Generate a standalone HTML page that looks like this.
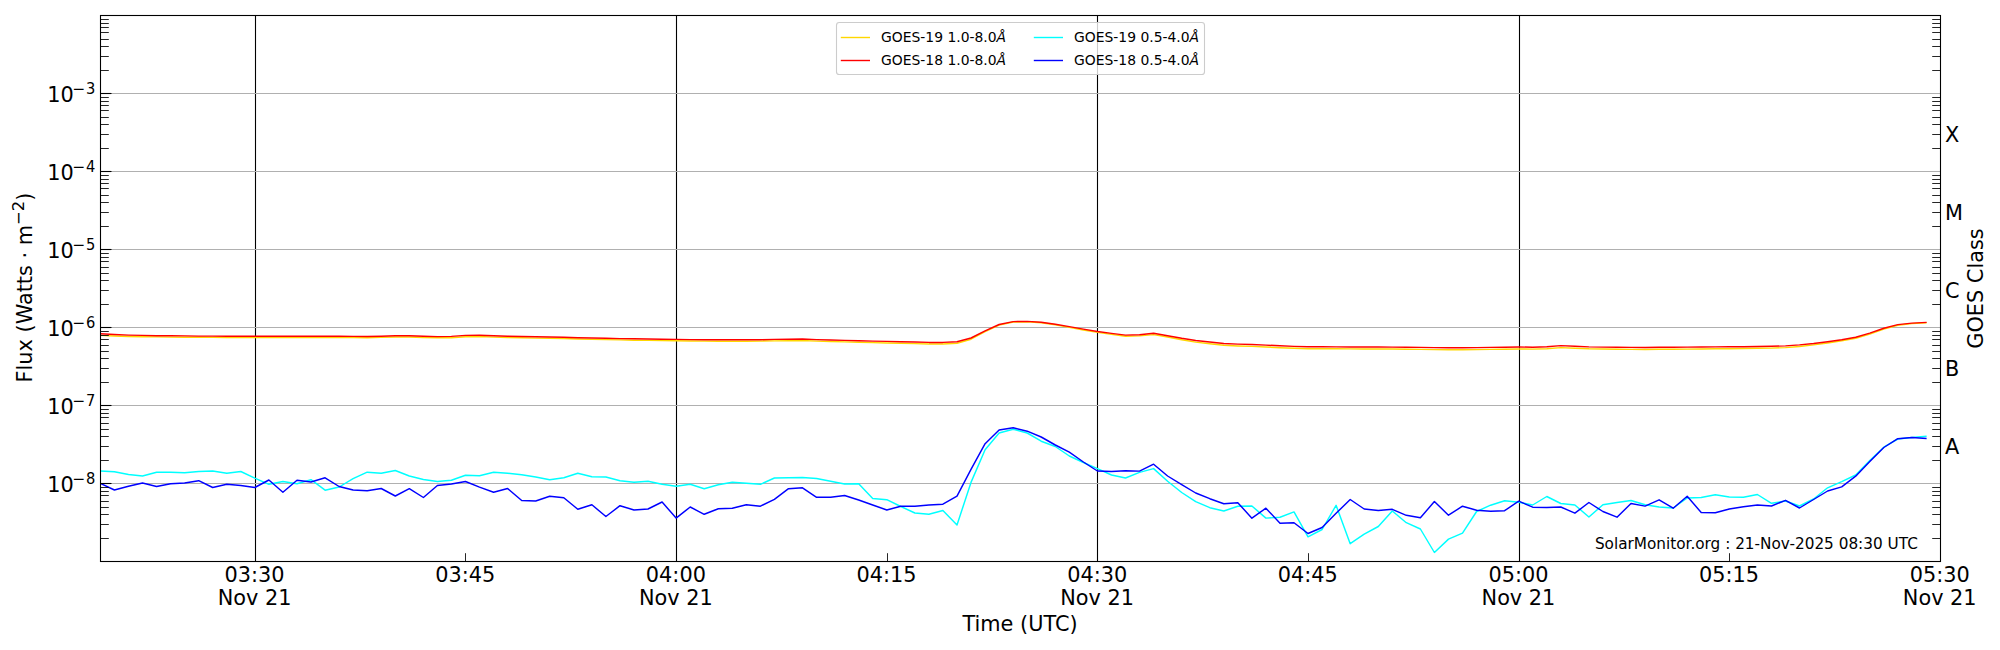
<!DOCTYPE html>
<html lang="en"><head><meta charset="utf-8"><title>GOES X-ray Flux</title>
<style>html,body{margin:0;padding:0;background:#fff;}svg{display:block;}</style></head>
<body>
<svg width="2000" height="650" viewBox="0 0 2000 650" font-family='"DejaVu Sans", "Liberation Sans", sans-serif' shape-rendering="auto">
<rect x="0" y="0" width="2000" height="650" fill="#fff"/>
<line x1="255.50" x2="255.50" y1="15.5" y2="561.5" stroke="#000" stroke-width="1.1"/>
<line x1="676.50" x2="676.50" y1="15.5" y2="561.5" stroke="#000" stroke-width="1.1"/>
<line x1="1097.50" x2="1097.50" y1="15.5" y2="561.5" stroke="#000" stroke-width="1.1"/>
<line x1="1519.50" x2="1519.50" y1="15.5" y2="561.5" stroke="#000" stroke-width="1.1"/>
<line x1="100.5" x2="1940.5" y1="483.50" y2="483.50" stroke="#b0b0b0" stroke-width="1.1"/>
<line x1="100.5" x2="1940.5" y1="405.50" y2="405.50" stroke="#b0b0b0" stroke-width="1.1"/>
<line x1="100.5" x2="1940.5" y1="327.50" y2="327.50" stroke="#b0b0b0" stroke-width="1.1"/>
<line x1="100.5" x2="1940.5" y1="249.50" y2="249.50" stroke="#b0b0b0" stroke-width="1.1"/>
<line x1="100.5" x2="1940.5" y1="171.50" y2="171.50" stroke="#b0b0b0" stroke-width="1.1"/>
<line x1="100.5" x2="1940.5" y1="93.50" y2="93.50" stroke="#b0b0b0" stroke-width="1.1"/>
<clipPath id="axclip"><rect x="100.5" y="15.5" width="1840.0" height="546.0"/></clipPath>
<g clip-path="url(#axclip)">
<polyline points="100.4,335.4 114.4,336.0 128.5,336.5 142.5,336.7 156.6,336.9 170.6,337.1 184.6,337.2 198.7,337.3 212.7,337.4 226.8,337.4 240.8,337.5 254.8,337.5 268.9,337.5 282.9,337.5 297.0,337.5 311.0,337.5 325.1,337.5 339.1,337.5 353.1,337.6 367.2,337.7 381.2,337.4 395.3,337.0 409.3,337.0 423.4,337.5 437.4,337.8 451.4,337.7 465.5,336.7 479.5,336.5 493.6,337.1 507.6,337.5 521.7,337.8 535.7,338.1 549.7,338.3 563.8,338.5 577.8,339.0 591.9,339.4 605.9,339.6 620.0,339.9 634.0,340.2 648.0,340.4 662.1,340.6 676.1,340.8 690.2,341.0 704.2,341.1 718.3,341.2 732.3,341.2 746.3,341.2 760.4,341.1 774.4,340.9 788.5,340.7 802.5,340.5 816.6,341.1 830.6,341.5 844.6,341.9 858.7,342.3 872.7,342.6 886.8,343.0 900.8,343.3 914.9,343.6 928.9,344.0 942.9,344.0 957.0,343.3 971.0,339.2 985.1,331.6 999.1,325.1 1013.2,322.0 1027.2,321.8 1041.2,322.7 1055.3,324.8 1069.3,327.4 1083.4,330.0 1097.4,332.4 1111.5,334.4 1125.5,336.3 1139.5,335.9 1153.6,334.6 1167.6,337.0 1181.7,339.7 1195.7,342.1 1209.8,343.7 1223.8,345.3 1237.8,346.0 1251.9,346.4 1265.9,347.0 1280.0,347.7 1294.0,348.3 1308.0,348.7 1322.1,348.8 1336.1,348.8 1350.2,348.9 1364.2,348.9 1378.3,348.9 1392.3,349.0 1406.3,349.2 1420.4,349.4 1434.4,349.6 1448.5,349.7 1462.5,349.7 1476.6,349.6 1490.6,349.4 1504.6,349.2 1518.7,349.0 1532.7,349.1 1546.8,348.7 1560.8,347.6 1574.9,348.2 1588.9,348.8 1602.9,349.0 1617.0,349.2 1631.0,349.4 1645.1,349.4 1659.1,349.3 1673.2,349.2 1687.2,349.1 1701.2,349.0 1715.3,348.8 1729.3,348.7 1743.4,348.5 1757.4,348.3 1771.5,348.1 1785.5,347.6 1799.5,346.5 1813.6,344.9 1827.6,343.0 1841.7,340.8 1855.7,338.2 1869.8,334.1 1883.8,329.0 1897.8,325.3 1911.9,323.6 1925.9,322.8" fill="none" stroke="#ffd700" stroke-width="1.45" stroke-linejoin="round" stroke-linecap="square"/>
<polyline points="100.4,333.8 114.4,334.5 128.5,335.1 142.5,335.4 156.6,335.7 170.6,335.8 184.6,335.9 198.7,336.1 212.7,336.1 226.8,336.2 240.8,336.2 254.8,336.2 268.9,336.2 282.9,336.2 297.0,336.2 311.0,336.3 325.1,336.3 339.1,336.3 353.1,336.4 367.2,336.5 381.2,336.2 395.3,335.8 409.3,335.8 423.4,336.2 437.4,336.6 451.4,336.4 465.5,335.4 479.5,335.2 493.6,335.8 507.6,336.2 521.7,336.5 535.7,336.8 549.7,337.0 563.8,337.2 577.8,337.7 591.9,338.0 605.9,338.3 620.0,338.6 634.0,338.8 648.0,339.0 662.1,339.2 676.1,339.4 690.2,339.6 704.2,339.7 718.3,339.8 732.3,339.8 746.3,339.8 760.4,339.7 774.4,339.4 788.5,339.2 802.5,339.0 816.6,339.6 830.6,340.0 844.6,340.4 858.7,340.8 872.7,341.1 886.8,341.4 900.8,341.7 914.9,342.0 928.9,342.4 942.9,342.4 957.0,341.8 971.0,338.0 985.1,330.8 999.1,324.5 1013.2,321.6 1027.2,321.4 1041.2,322.2 1055.3,324.2 1069.3,326.6 1083.4,329.1 1097.4,331.5 1111.5,333.4 1125.5,335.1 1139.5,334.7 1153.6,333.3 1167.6,335.7 1181.7,338.3 1195.7,340.5 1209.8,342.0 1223.8,343.5 1237.8,344.1 1251.9,344.5 1265.9,345.1 1280.0,345.8 1294.0,346.4 1308.0,346.8 1322.1,346.8 1336.1,346.9 1350.2,346.9 1364.2,346.9 1378.3,347.0 1392.3,347.1 1406.3,347.3 1420.4,347.4 1434.4,347.6 1448.5,347.7 1462.5,347.7 1476.6,347.6 1490.6,347.4 1504.6,347.2 1518.7,347.0 1532.7,347.2 1546.8,346.7 1560.8,345.6 1574.9,346.2 1588.9,346.9 1602.9,347.1 1617.0,347.2 1631.0,347.4 1645.1,347.5 1659.1,347.3 1673.2,347.2 1687.2,347.1 1701.2,347.0 1715.3,346.9 1729.3,346.8 1743.4,346.7 1757.4,346.5 1771.5,346.3 1785.5,345.9 1799.5,344.9 1813.6,343.5 1827.6,341.7 1841.7,339.7 1855.7,337.2 1869.8,333.1 1883.8,328.2 1897.8,324.6 1911.9,323.1 1925.9,322.4" fill="none" stroke="#ff0000" stroke-width="1.45" stroke-linejoin="round" stroke-linecap="square"/>
<polyline points="100.4,471.0 114.4,471.7 128.5,474.5 142.5,476.0 156.6,472.2 170.6,472.2 184.6,472.8 198.7,471.5 212.7,471.0 226.8,473.2 240.8,471.5 254.8,478.2 268.9,484.3 282.9,481.5 297.0,483.7 311.0,479.7 325.1,490.2 339.1,487.0 353.1,478.7 367.2,472.2 381.2,473.2 395.3,470.5 409.3,476.0 423.4,479.5 437.4,481.5 451.4,480.3 465.5,475.3 479.5,475.8 493.6,472.2 507.6,473.2 521.7,474.7 535.7,477.0 549.7,479.8 563.8,477.8 577.8,473.3 591.9,476.8 605.9,477.0 620.0,480.8 634.0,482.2 648.0,481.2 662.1,484.2 676.1,486.3 690.2,484.2 704.2,488.7 718.3,484.8 732.3,482.2 746.3,483.2 760.4,484.3 774.4,478.0 788.5,477.8 802.5,477.5 816.6,478.5 830.6,481.3 844.6,484.0 858.7,483.7 872.7,498.5 886.8,499.7 900.8,506.5 914.9,513.0 928.9,514.3 942.9,510.5 957.0,525.0 971.0,482.4 985.1,449.7 999.1,433.0 1013.2,429.2 1027.2,433.0 1041.2,441.2 1055.3,446.5 1069.3,456.0 1083.4,462.5 1097.4,468.7 1111.5,475.0 1125.5,478.0 1139.5,472.4 1153.6,468.6 1167.6,481.2 1181.7,492.5 1195.7,501.7 1209.8,507.7 1223.8,511.0 1237.8,506.3 1251.9,506.0 1265.9,518.1 1280.0,517.3 1294.0,511.9 1308.0,536.8 1322.1,529.5 1336.1,505.3 1350.2,543.7 1364.2,534.2 1378.3,526.5 1392.3,511.0 1406.3,522.7 1420.4,529.0 1434.4,552.5 1448.5,539.1 1462.5,533.2 1476.6,511.5 1490.6,505.2 1504.6,500.8 1518.7,502.2 1532.7,505.0 1546.8,496.5 1560.8,503.5 1574.9,505.0 1588.9,517.0 1602.9,504.8 1617.0,502.5 1631.0,500.5 1645.1,504.8 1659.1,507.0 1673.2,508.0 1687.2,498.0 1701.2,497.5 1715.3,494.8 1729.3,497.0 1743.4,497.3 1757.4,494.5 1771.5,503.3 1785.5,501.0 1799.5,506.0 1813.6,499.0 1827.6,487.8 1841.7,481.7 1855.7,475.0 1869.8,460.5 1883.8,447.2 1897.8,439.0 1911.9,437.5 1925.9,436.3" fill="none" stroke="#00ffff" stroke-width="1.45" stroke-linejoin="round" stroke-linecap="square"/>
<polyline points="100.4,483.5 114.4,490.0 128.5,486.2 142.5,483.0 156.6,486.5 170.6,483.8 184.6,483.0 198.7,480.7 212.7,487.5 226.8,484.3 240.8,485.5 254.8,487.5 268.9,480.0 282.9,492.2 297.0,480.2 311.0,482.0 325.1,477.8 339.1,486.5 353.1,490.0 367.2,490.7 381.2,488.5 395.3,496.0 409.3,488.7 423.4,497.5 437.4,485.5 451.4,484.0 465.5,481.5 479.5,487.1 493.6,492.2 507.6,488.5 521.7,500.5 535.7,501.0 549.7,496.3 563.8,497.8 577.8,509.3 591.9,504.8 605.9,516.5 620.0,505.7 634.0,510.0 648.0,509.0 662.1,502.0 676.1,518.1 690.2,507.0 704.2,514.3 718.3,508.8 732.3,508.2 746.3,504.7 760.4,506.2 774.4,499.3 788.5,488.7 802.5,487.8 816.6,497.3 830.6,497.3 844.6,495.5 858.7,500.0 872.7,505.0 886.8,510.0 900.8,506.3 914.9,506.3 928.9,505.0 942.9,504.2 957.0,496.2 971.0,469.3 985.1,443.7 999.1,430.0 1013.2,427.8 1027.2,431.2 1041.2,437.0 1055.3,445.0 1069.3,452.2 1083.4,462.0 1097.4,471.0 1111.5,471.5 1125.5,470.7 1139.5,471.1 1153.6,464.2 1167.6,476.0 1181.7,484.7 1195.7,493.0 1209.8,498.7 1223.8,503.8 1237.8,502.7 1251.9,518.2 1265.9,508.2 1280.0,523.2 1294.0,522.7 1308.0,533.5 1322.1,527.5 1336.1,513.3 1350.2,499.5 1364.2,509.0 1378.3,510.5 1392.3,509.3 1406.3,515.3 1420.4,517.8 1434.4,501.5 1448.5,515.2 1462.5,506.2 1476.6,510.3 1490.6,511.3 1504.6,510.7 1518.7,501.2 1532.7,507.2 1546.8,507.5 1560.8,507.0 1574.9,513.2 1588.9,502.5 1602.9,511.5 1617.0,517.2 1631.0,503.5 1645.1,506.1 1659.1,499.8 1673.2,508.2 1687.2,496.3 1701.2,512.5 1715.3,512.8 1729.3,509.0 1743.4,506.8 1757.4,505.0 1771.5,506.0 1785.5,500.3 1799.5,508.0 1813.6,499.5 1827.6,491.0 1841.7,486.9 1855.7,476.2 1869.8,461.5 1883.8,447.5 1897.8,438.7 1911.9,437.5 1925.9,438.5" fill="none" stroke="#0000ff" stroke-width="1.45" stroke-linejoin="round" stroke-linecap="square"/>
</g>
<line x1="100.5" x2="108.8" y1="538.50" y2="538.50" stroke="#000" stroke-width="0.85"/>
<line x1="1940.5" x2="1932.2" y1="538.50" y2="538.50" stroke="#000" stroke-width="0.85"/>
<line x1="100.5" x2="108.8" y1="524.50" y2="524.50" stroke="#000" stroke-width="0.85"/>
<line x1="1940.5" x2="1932.2" y1="524.50" y2="524.50" stroke="#000" stroke-width="0.85"/>
<line x1="100.5" x2="108.8" y1="514.50" y2="514.50" stroke="#000" stroke-width="0.85"/>
<line x1="1940.5" x2="1932.2" y1="514.50" y2="514.50" stroke="#000" stroke-width="0.85"/>
<line x1="100.5" x2="108.8" y1="507.50" y2="507.50" stroke="#000" stroke-width="0.85"/>
<line x1="1940.5" x2="1932.2" y1="507.50" y2="507.50" stroke="#000" stroke-width="0.85"/>
<line x1="100.5" x2="108.8" y1="501.50" y2="501.50" stroke="#000" stroke-width="0.85"/>
<line x1="1940.5" x2="1932.2" y1="501.50" y2="501.50" stroke="#000" stroke-width="0.85"/>
<line x1="100.5" x2="108.8" y1="495.50" y2="495.50" stroke="#000" stroke-width="0.85"/>
<line x1="1940.5" x2="1932.2" y1="495.50" y2="495.50" stroke="#000" stroke-width="0.85"/>
<line x1="100.5" x2="108.8" y1="491.50" y2="491.50" stroke="#000" stroke-width="0.85"/>
<line x1="1940.5" x2="1932.2" y1="491.50" y2="491.50" stroke="#000" stroke-width="0.85"/>
<line x1="100.5" x2="108.8" y1="487.50" y2="487.50" stroke="#000" stroke-width="0.85"/>
<line x1="1940.5" x2="1932.2" y1="487.50" y2="487.50" stroke="#000" stroke-width="0.85"/>
<line x1="100.5" x2="111.5" y1="483.50" y2="483.50" stroke="#000" stroke-width="1.1"/>
<line x1="100.5" x2="108.8" y1="460.50" y2="460.50" stroke="#000" stroke-width="0.85"/>
<line x1="1940.5" x2="1932.2" y1="460.50" y2="460.50" stroke="#000" stroke-width="0.85"/>
<line x1="100.5" x2="108.8" y1="446.50" y2="446.50" stroke="#000" stroke-width="0.85"/>
<line x1="1940.5" x2="1932.2" y1="446.50" y2="446.50" stroke="#000" stroke-width="0.85"/>
<line x1="100.5" x2="108.8" y1="436.50" y2="436.50" stroke="#000" stroke-width="0.85"/>
<line x1="1940.5" x2="1932.2" y1="436.50" y2="436.50" stroke="#000" stroke-width="0.85"/>
<line x1="100.5" x2="108.8" y1="429.50" y2="429.50" stroke="#000" stroke-width="0.85"/>
<line x1="1940.5" x2="1932.2" y1="429.50" y2="429.50" stroke="#000" stroke-width="0.85"/>
<line x1="100.5" x2="108.8" y1="423.50" y2="423.50" stroke="#000" stroke-width="0.85"/>
<line x1="1940.5" x2="1932.2" y1="423.50" y2="423.50" stroke="#000" stroke-width="0.85"/>
<line x1="100.5" x2="108.8" y1="417.50" y2="417.50" stroke="#000" stroke-width="0.85"/>
<line x1="1940.5" x2="1932.2" y1="417.50" y2="417.50" stroke="#000" stroke-width="0.85"/>
<line x1="100.5" x2="108.8" y1="413.50" y2="413.50" stroke="#000" stroke-width="0.85"/>
<line x1="1940.5" x2="1932.2" y1="413.50" y2="413.50" stroke="#000" stroke-width="0.85"/>
<line x1="100.5" x2="108.8" y1="409.50" y2="409.50" stroke="#000" stroke-width="0.85"/>
<line x1="1940.5" x2="1932.2" y1="409.50" y2="409.50" stroke="#000" stroke-width="0.85"/>
<line x1="100.5" x2="111.5" y1="405.50" y2="405.50" stroke="#000" stroke-width="1.1"/>
<line x1="100.5" x2="108.8" y1="382.50" y2="382.50" stroke="#000" stroke-width="0.85"/>
<line x1="1940.5" x2="1932.2" y1="382.50" y2="382.50" stroke="#000" stroke-width="0.85"/>
<line x1="100.5" x2="108.8" y1="368.50" y2="368.50" stroke="#000" stroke-width="0.85"/>
<line x1="1940.5" x2="1932.2" y1="368.50" y2="368.50" stroke="#000" stroke-width="0.85"/>
<line x1="100.5" x2="108.8" y1="358.50" y2="358.50" stroke="#000" stroke-width="0.85"/>
<line x1="1940.5" x2="1932.2" y1="358.50" y2="358.50" stroke="#000" stroke-width="0.85"/>
<line x1="100.5" x2="108.8" y1="351.50" y2="351.50" stroke="#000" stroke-width="0.85"/>
<line x1="1940.5" x2="1932.2" y1="351.50" y2="351.50" stroke="#000" stroke-width="0.85"/>
<line x1="100.5" x2="108.8" y1="345.50" y2="345.50" stroke="#000" stroke-width="0.85"/>
<line x1="1940.5" x2="1932.2" y1="345.50" y2="345.50" stroke="#000" stroke-width="0.85"/>
<line x1="100.5" x2="108.8" y1="339.50" y2="339.50" stroke="#000" stroke-width="0.85"/>
<line x1="1940.5" x2="1932.2" y1="339.50" y2="339.50" stroke="#000" stroke-width="0.85"/>
<line x1="100.5" x2="108.8" y1="335.50" y2="335.50" stroke="#000" stroke-width="0.85"/>
<line x1="1940.5" x2="1932.2" y1="335.50" y2="335.50" stroke="#000" stroke-width="0.85"/>
<line x1="100.5" x2="108.8" y1="331.50" y2="331.50" stroke="#000" stroke-width="0.85"/>
<line x1="1940.5" x2="1932.2" y1="331.50" y2="331.50" stroke="#000" stroke-width="0.85"/>
<line x1="100.5" x2="111.5" y1="327.50" y2="327.50" stroke="#000" stroke-width="1.1"/>
<line x1="100.5" x2="108.8" y1="304.50" y2="304.50" stroke="#000" stroke-width="0.85"/>
<line x1="1940.5" x2="1932.2" y1="304.50" y2="304.50" stroke="#000" stroke-width="0.85"/>
<line x1="100.5" x2="108.8" y1="290.50" y2="290.50" stroke="#000" stroke-width="0.85"/>
<line x1="1940.5" x2="1932.2" y1="290.50" y2="290.50" stroke="#000" stroke-width="0.85"/>
<line x1="100.5" x2="108.8" y1="280.50" y2="280.50" stroke="#000" stroke-width="0.85"/>
<line x1="1940.5" x2="1932.2" y1="280.50" y2="280.50" stroke="#000" stroke-width="0.85"/>
<line x1="100.5" x2="108.8" y1="273.50" y2="273.50" stroke="#000" stroke-width="0.85"/>
<line x1="1940.5" x2="1932.2" y1="273.50" y2="273.50" stroke="#000" stroke-width="0.85"/>
<line x1="100.5" x2="108.8" y1="267.50" y2="267.50" stroke="#000" stroke-width="0.85"/>
<line x1="1940.5" x2="1932.2" y1="267.50" y2="267.50" stroke="#000" stroke-width="0.85"/>
<line x1="100.5" x2="108.8" y1="261.50" y2="261.50" stroke="#000" stroke-width="0.85"/>
<line x1="1940.5" x2="1932.2" y1="261.50" y2="261.50" stroke="#000" stroke-width="0.85"/>
<line x1="100.5" x2="108.8" y1="257.50" y2="257.50" stroke="#000" stroke-width="0.85"/>
<line x1="1940.5" x2="1932.2" y1="257.50" y2="257.50" stroke="#000" stroke-width="0.85"/>
<line x1="100.5" x2="108.8" y1="253.50" y2="253.50" stroke="#000" stroke-width="0.85"/>
<line x1="1940.5" x2="1932.2" y1="253.50" y2="253.50" stroke="#000" stroke-width="0.85"/>
<line x1="100.5" x2="111.5" y1="249.50" y2="249.50" stroke="#000" stroke-width="1.1"/>
<line x1="100.5" x2="108.8" y1="226.50" y2="226.50" stroke="#000" stroke-width="0.85"/>
<line x1="1940.5" x2="1932.2" y1="226.50" y2="226.50" stroke="#000" stroke-width="0.85"/>
<line x1="100.5" x2="108.8" y1="212.50" y2="212.50" stroke="#000" stroke-width="0.85"/>
<line x1="1940.5" x2="1932.2" y1="212.50" y2="212.50" stroke="#000" stroke-width="0.85"/>
<line x1="100.5" x2="108.8" y1="202.50" y2="202.50" stroke="#000" stroke-width="0.85"/>
<line x1="1940.5" x2="1932.2" y1="202.50" y2="202.50" stroke="#000" stroke-width="0.85"/>
<line x1="100.5" x2="108.8" y1="195.50" y2="195.50" stroke="#000" stroke-width="0.85"/>
<line x1="1940.5" x2="1932.2" y1="195.50" y2="195.50" stroke="#000" stroke-width="0.85"/>
<line x1="100.5" x2="108.8" y1="188.50" y2="188.50" stroke="#000" stroke-width="0.85"/>
<line x1="1940.5" x2="1932.2" y1="188.50" y2="188.50" stroke="#000" stroke-width="0.85"/>
<line x1="100.5" x2="108.8" y1="183.50" y2="183.50" stroke="#000" stroke-width="0.85"/>
<line x1="1940.5" x2="1932.2" y1="183.50" y2="183.50" stroke="#000" stroke-width="0.85"/>
<line x1="100.5" x2="108.8" y1="179.50" y2="179.50" stroke="#000" stroke-width="0.85"/>
<line x1="1940.5" x2="1932.2" y1="179.50" y2="179.50" stroke="#000" stroke-width="0.85"/>
<line x1="100.5" x2="108.8" y1="175.50" y2="175.50" stroke="#000" stroke-width="0.85"/>
<line x1="1940.5" x2="1932.2" y1="175.50" y2="175.50" stroke="#000" stroke-width="0.85"/>
<line x1="100.5" x2="111.5" y1="171.50" y2="171.50" stroke="#000" stroke-width="1.1"/>
<line x1="100.5" x2="108.8" y1="148.50" y2="148.50" stroke="#000" stroke-width="0.85"/>
<line x1="1940.5" x2="1932.2" y1="148.50" y2="148.50" stroke="#000" stroke-width="0.85"/>
<line x1="100.5" x2="108.8" y1="134.50" y2="134.50" stroke="#000" stroke-width="0.85"/>
<line x1="1940.5" x2="1932.2" y1="134.50" y2="134.50" stroke="#000" stroke-width="0.85"/>
<line x1="100.5" x2="108.8" y1="124.50" y2="124.50" stroke="#000" stroke-width="0.85"/>
<line x1="1940.5" x2="1932.2" y1="124.50" y2="124.50" stroke="#000" stroke-width="0.85"/>
<line x1="100.5" x2="108.8" y1="117.50" y2="117.50" stroke="#000" stroke-width="0.85"/>
<line x1="1940.5" x2="1932.2" y1="117.50" y2="117.50" stroke="#000" stroke-width="0.85"/>
<line x1="100.5" x2="108.8" y1="110.50" y2="110.50" stroke="#000" stroke-width="0.85"/>
<line x1="1940.5" x2="1932.2" y1="110.50" y2="110.50" stroke="#000" stroke-width="0.85"/>
<line x1="100.5" x2="108.8" y1="105.50" y2="105.50" stroke="#000" stroke-width="0.85"/>
<line x1="1940.5" x2="1932.2" y1="105.50" y2="105.50" stroke="#000" stroke-width="0.85"/>
<line x1="100.5" x2="108.8" y1="101.50" y2="101.50" stroke="#000" stroke-width="0.85"/>
<line x1="1940.5" x2="1932.2" y1="101.50" y2="101.50" stroke="#000" stroke-width="0.85"/>
<line x1="100.5" x2="108.8" y1="97.50" y2="97.50" stroke="#000" stroke-width="0.85"/>
<line x1="1940.5" x2="1932.2" y1="97.50" y2="97.50" stroke="#000" stroke-width="0.85"/>
<line x1="100.5" x2="111.5" y1="93.50" y2="93.50" stroke="#000" stroke-width="1.1"/>
<line x1="100.5" x2="108.8" y1="70.50" y2="70.50" stroke="#000" stroke-width="0.85"/>
<line x1="1940.5" x2="1932.2" y1="70.50" y2="70.50" stroke="#000" stroke-width="0.85"/>
<line x1="100.5" x2="108.8" y1="56.50" y2="56.50" stroke="#000" stroke-width="0.85"/>
<line x1="1940.5" x2="1932.2" y1="56.50" y2="56.50" stroke="#000" stroke-width="0.85"/>
<line x1="100.5" x2="108.8" y1="46.50" y2="46.50" stroke="#000" stroke-width="0.85"/>
<line x1="1940.5" x2="1932.2" y1="46.50" y2="46.50" stroke="#000" stroke-width="0.85"/>
<line x1="100.5" x2="108.8" y1="39.50" y2="39.50" stroke="#000" stroke-width="0.85"/>
<line x1="1940.5" x2="1932.2" y1="39.50" y2="39.50" stroke="#000" stroke-width="0.85"/>
<line x1="100.5" x2="108.8" y1="32.50" y2="32.50" stroke="#000" stroke-width="0.85"/>
<line x1="1940.5" x2="1932.2" y1="32.50" y2="32.50" stroke="#000" stroke-width="0.85"/>
<line x1="100.5" x2="108.8" y1="27.50" y2="27.50" stroke="#000" stroke-width="0.85"/>
<line x1="1940.5" x2="1932.2" y1="27.50" y2="27.50" stroke="#000" stroke-width="0.85"/>
<line x1="100.5" x2="108.8" y1="23.50" y2="23.50" stroke="#000" stroke-width="0.85"/>
<line x1="1940.5" x2="1932.2" y1="23.50" y2="23.50" stroke="#000" stroke-width="0.85"/>
<line x1="100.5" x2="108.8" y1="19.50" y2="19.50" stroke="#000" stroke-width="0.85"/>
<line x1="1940.5" x2="1932.2" y1="19.50" y2="19.50" stroke="#000" stroke-width="0.85"/>
<line x1="465.50" x2="465.50" y1="561.5" y2="553.2" stroke="#000" stroke-width="0.85"/>
<line x1="887.50" x2="887.50" y1="561.5" y2="553.2" stroke="#000" stroke-width="0.85"/>
<line x1="1308.50" x2="1308.50" y1="561.5" y2="553.2" stroke="#000" stroke-width="0.85"/>
<line x1="1729.50" x2="1729.50" y1="561.5" y2="553.2" stroke="#000" stroke-width="0.85"/>
<rect x="100.5" y="15.5" width="1840.0" height="546.0" fill="none" stroke="#000" stroke-width="1.1"/>
<text x="47.2" y="492.00" font-size="20.83">10</text>
<text x="72.6" y="484.00" font-size="15.4">−</text>
<text transform="translate(85.9,484.10) scale(0.89,1)" font-size="16.46">8</text>
<text x="47.2" y="414.00" font-size="20.83">10</text>
<text x="72.6" y="406.00" font-size="15.4">−</text>
<text transform="translate(85.9,406.10) scale(0.89,1)" font-size="16.46">7</text>
<text x="47.2" y="336.00" font-size="20.83">10</text>
<text x="72.6" y="328.00" font-size="15.4">−</text>
<text transform="translate(85.9,328.10) scale(0.89,1)" font-size="16.46">6</text>
<text x="47.2" y="258.00" font-size="20.83">10</text>
<text x="72.6" y="250.00" font-size="15.4">−</text>
<text transform="translate(85.9,250.10) scale(0.89,1)" font-size="16.46">5</text>
<text x="47.2" y="180.00" font-size="20.83">10</text>
<text x="72.6" y="172.00" font-size="15.4">−</text>
<text transform="translate(85.9,172.10) scale(0.89,1)" font-size="16.46">4</text>
<text x="47.2" y="102.00" font-size="20.83">10</text>
<text x="72.6" y="94.00" font-size="15.4">−</text>
<text transform="translate(85.9,94.10) scale(0.89,1)" font-size="16.46">3</text>
<text x="1945" y="454.10" font-size="20.83">A</text>
<text x="1945" y="376.10" font-size="20.83">B</text>
<text x="1945" y="298.10" font-size="20.83">C</text>
<text x="1945" y="220.10" font-size="20.83">M</text>
<text x="1945" y="142.10" font-size="20.83">X</text>
<text x="254.60" y="581.8" font-size="20.83" text-anchor="middle">03:30</text>
<text x="254.60" y="604.9" font-size="20.83" text-anchor="middle">Nov 21</text>
<text x="465.24" y="581.8" font-size="20.83" text-anchor="middle">03:45</text>
<text x="675.88" y="581.8" font-size="20.83" text-anchor="middle">04:00</text>
<text x="675.88" y="604.9" font-size="20.83" text-anchor="middle">Nov 21</text>
<text x="886.52" y="581.8" font-size="20.83" text-anchor="middle">04:15</text>
<text x="1097.16" y="581.8" font-size="20.83" text-anchor="middle">04:30</text>
<text x="1097.16" y="604.9" font-size="20.83" text-anchor="middle">Nov 21</text>
<text x="1307.80" y="581.8" font-size="20.83" text-anchor="middle">04:45</text>
<text x="1518.44" y="581.8" font-size="20.83" text-anchor="middle">05:00</text>
<text x="1518.44" y="604.9" font-size="20.83" text-anchor="middle">Nov 21</text>
<text x="1729.08" y="581.8" font-size="20.83" text-anchor="middle">05:15</text>
<text x="1939.72" y="581.8" font-size="20.83" text-anchor="middle">05:30</text>
<text x="1939.72" y="604.9" font-size="20.83" text-anchor="middle">Nov 21</text>
<text x="1020" y="630.8" font-size="20.83" text-anchor="middle">Time (UTC)</text>
<text transform="translate(31.6,382.4) rotate(-90)" font-size="20.83">Flux (Watts · m<tspan dy="-8" font-size="16.4">−2</tspan><tspan dy="8">)</tspan></text>
<text transform="translate(1982.5,288.5) rotate(-90)" font-size="20.83" text-anchor="middle">GOES Class</text>
<text x="1917.8" y="548.75" font-size="15.28" text-anchor="end">SolarMonitor.org : 21-Nov-2025 08:30 UTC</text>
<rect x="836.5" y="22.5" width="368" height="52" rx="2.8" ry="2.8" fill="#fff" fill-opacity="0.8" stroke="#cccccc" stroke-width="1.1"/>
<line x1="841.5" x2="869.3" y1="37.5" y2="37.5" stroke="#ffd700" stroke-width="1.4" stroke-linecap="square"/>
<text x="881.0" y="42.4" font-size="13.9">GOES-19 1.0-8.0<tspan font-style="italic">Å</tspan></text>
<line x1="841.5" x2="869.3" y1="60.5" y2="60.5" stroke="#ff0000" stroke-width="1.4" stroke-linecap="square"/>
<text x="881.0" y="65.4" font-size="13.9">GOES-18 1.0-8.0<tspan font-style="italic">Å</tspan></text>
<line x1="1034.5" x2="1062.3" y1="37.5" y2="37.5" stroke="#00ffff" stroke-width="1.4" stroke-linecap="square"/>
<text x="1074.0" y="42.4" font-size="13.9">GOES-19 0.5-4.0<tspan font-style="italic">Å</tspan></text>
<line x1="1034.5" x2="1062.3" y1="60.5" y2="60.5" stroke="#0000ff" stroke-width="1.4" stroke-linecap="square"/>
<text x="1074.0" y="65.4" font-size="13.9">GOES-18 0.5-4.0<tspan font-style="italic">Å</tspan></text>
</svg>
</body></html>
